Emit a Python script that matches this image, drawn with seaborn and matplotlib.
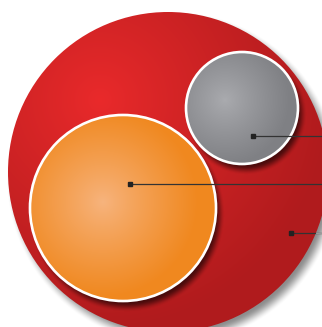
import numpy as np
import matplotlib
matplotlib.use("Agg")
import matplotlib.pyplot as plt
import seaborn as sns
from matplotlib.patches import Circle
from matplotlib.colors import to_rgb

sns.set_theme(style="white")

# data
names = ["Total", "Segment A", "Segment B"]
values = [100.0, 33.8, 12.25]          # relative areas
light_colors = ["#EA2A2B", "#F7B47E", "#AAABAF"]
dark_colors = ["#B01B1D", "#F0881F", "#7F8084"]

# layout (pixels)
W, H = 322, 327
scale = 16.0   # px radius per sqrt(value)
centers = [(168, 172), (123, 208), (242, 108)]
highlights = [(100, 100), (103, 202), (225, 100)]
fade_dist = [230, 95, 65]
leader_starts = [(291, 233), (130, 184), (253, 136)]

fig = plt.figure(figsize=(W / 100, H / 100), dpi=100)
ax = fig.add_axes([0, 0, 1, 1])
ax.set_xlim(0, W)
ax.set_ylim(H, 0)
ax.set_aspect("auto")
ax.axis("off")

yy, xx = np.mgrid[0:H, 0:W] + 0.5


def shadow(cx, cy, r, dx, dy, blur, strength, z):
    d = np.hypot(xx - (cx + dx), yy - (cy + dy))
    t = np.clip((r + blur - d) / (2 * blur), 0, 1)
    t = t * t * (3 - 2 * t)
    img = np.zeros((H, W, 4))
    img[..., 3] = t * strength
    ax.imshow(img, extent=(0, W, H, 0), zorder=z, interpolation="bilinear")


for i, (v, c, hl, lc, dc, fd) in enumerate(zip(values, centers, highlights,
                                                light_colors, dark_colors, fade_dist)):
    r = np.sqrt(v) * scale
    cx, cy = c
    z = 2 + i * 3
    if i == 0:
        shadow(cx, cy, r, 5, 6, 7, 0.45, z)
    else:
        shadow(cx, cy, r, 4, 6, 5, 0.6, z)
    d = np.hypot(xx - hl[0], yy - hl[1])
    t = np.clip(d / fd, 0, 1)
    t = t ** 0.9
    a = np.array(to_rgb(lc))
    b = np.array(to_rgb(dc))
    img = a[None, None, :] * (1 - t[..., None]) + b[None, None, :] * t[..., None]
    im = ax.imshow(img, extent=(0, W, H, 0), zorder=z + 1, interpolation="bilinear")
    clip = Circle((cx, cy), r, transform=ax.transData, facecolor="none", edgecolor="none")
    ax.add_patch(clip)
    im.set_clip_path(clip)
    if i > 0:
        ax.add_patch(Circle((cx, cy), r, facecolor="none", edgecolor="white",
                            linewidth=1.9, zorder=z + 2))

# leader lines
for i, (sx, sy) in enumerate(leader_starts):
    ax.plot([sx, W], [sy, sy], color="#333333", linewidth=0.9, zorder=20,
            solid_capstyle="butt")
    ax.plot([sx], [sy], marker="s", markersize=2.2, color="#222222", zorder=21)
    if i == 0:
        r = np.sqrt(values[0]) * scale
        ex = centers[0][0] + np.sqrt(max(r ** 2 - (sy - centers[0][1]) ** 2, 0))
        ax.plot([ex, W], [sy, sy], color="#9a9a9a", linewidth=0.9, zorder=22)

fig.savefig("out.png", dpi=100, facecolor="white")
